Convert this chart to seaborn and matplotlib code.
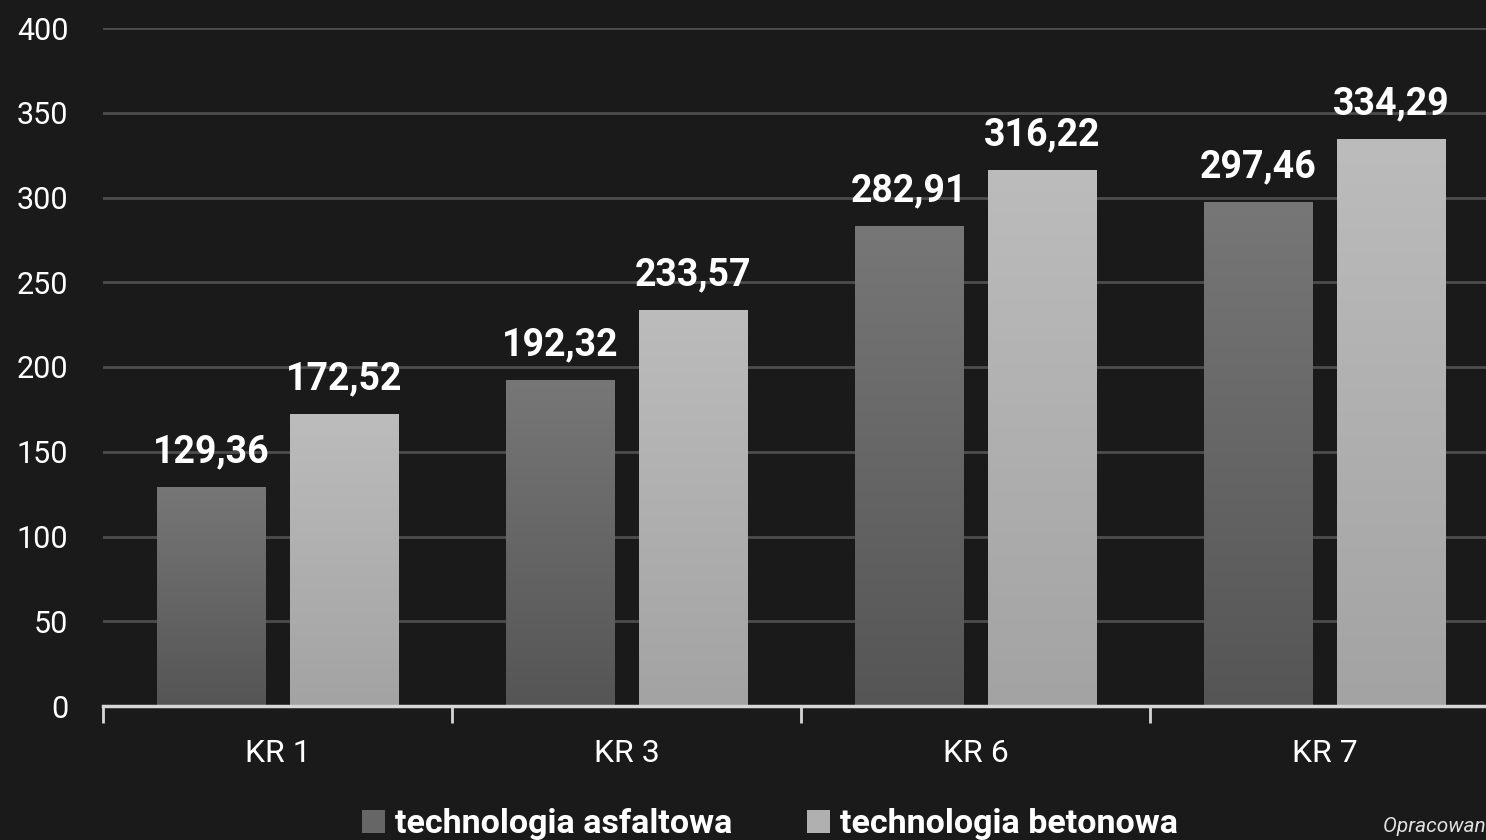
import numpy as np
import pandas as pd
import matplotlib
matplotlib.use("Agg")
import matplotlib.pyplot as plt
import seaborn as sns
from matplotlib.colors import LinearSegmentedColormap
from matplotlib.patches import Patch

categories = ["KR 1", "KR 3", "KR 6", "KR 7"]
series_names = ["technologia asfaltowa", "technologia betonowa"]
asfalt = [129.36, 192.32, 282.91, 297.46]
beton = [172.52, 233.57, 316.22, 334.29]
y_ticks = [0, 50, 100, 150, 200, 250, 300, 350, 400]
source_text = "Opracowanie własne"

df = pd.DataFrame({
    "kat": categories * 2,
    "wartosc": asfalt + beton,
    "tech": [series_names[0]] * 4 + [series_names[1]] * 4,
})

BG = "#1a1a1a"
sns.set_theme(style="dark")
plt.rcParams["font.family"] = ["Roboto", "DejaVu Sans"]

fig = plt.figure(figsize=(14.86, 8.4), dpi=100, facecolor=BG)
ax = fig.add_axes([103 / 1486, (840 - 706) / 840, 1 - 103 / 1486, (706 - 28) / 840])
ax.set_facecolor(BG)

pal = {series_names[0]: "#666666", series_names[1]: "#b0b0b0"}
sns.barplot(data=df, x="kat", y="wartosc", hue="tech", order=categories,
            hue_order=series_names, palette=pal, width=0.76, gap=0.18,
            saturation=1, ax=ax, legend=False, edgecolor="none", linewidth=0)

grads = {
    series_names[0]: ("#555555", "#777777"),
    series_names[1]: ("#a3a3a3", "#bcbcbc"),
}

# gradient overlay for each bar
for cont, name in zip(ax.containers, series_names):
    cmap = LinearSegmentedColormap.from_list(name, list(grads[name]))
    for p in cont.patches:
        x, y0 = p.get_x(), p.get_y()
        w, h = p.get_width(), p.get_height()
        grad = np.linspace(0, 1, 256).reshape(-1, 1)
        im = ax.imshow(grad, extent=[x, x + w, y0, y0 + h], origin="lower",
                       aspect="auto", cmap=cmap, zorder=p.get_zorder() + 0.1,
                       interpolation="bicubic")
        im.set_clip_path(p)
    labels = [f"{v:.2f}".replace(".", ",") for v in cont.datavalues]
    ax.bar_label(cont, labels=labels, padding=12, fontsize=27,
                 fontweight="bold", color="white")

ax.set_xticks([-0.5, 0.5, 1.5, 2.5], minor=True)
ax.set_yticks(y_ticks)
ax.set_yticklabels([str(t) for t in y_ticks])
ax.set_ylim(0, 400)
ax.yaxis.grid(True, color="#4d4d4d", linewidth=2)
ax.xaxis.grid(False)
ax.set_axisbelow(True)

for s in ["left", "top", "right"]:
    ax.spines[s].set_visible(False)
ax.spines["bottom"].set_color("#d6d6d6")
ax.spines["bottom"].set_linewidth(2.5)

ax.tick_params(axis="x", which="minor", length=12, width=2, color="#d6d6d6",
               direction="out", bottom=True)
ax.tick_params(axis="x", which="major", length=0, pad=24, labelsize=23,
               labelcolor="white")
ax.tick_params(axis="y", length=0, pad=25, labelsize=22, labelcolor="white")
for lbl in ax.get_yticklabels():
    lbl.set_va("center_baseline")
ax.set_xlabel("")
ax.set_ylabel("")
ax.set_xlim(-0.5, (1486 - 278) / 349)

handles = [Patch(facecolor="#666666", edgecolor="none"),
           Patch(facecolor="#b0b0b0", edgecolor="none")]
leg = fig.legend(handles, series_names, loc="center",
                 bbox_to_anchor=(770 / 1486, (840 - 824) / 840), ncol=2,
                 frameon=False, handlelength=0.66, handleheight=0.66,
                 handletextpad=0.3, columnspacing=2.2,
                 prop={"size": 24.5, "weight": "bold"})
for t in leg.get_texts():
    t.set_color("white")

fig.text(1383 / 1486, (840 - 827) / 840, source_text, fontsize=15,
         fontstyle="italic", color="#e0e0e0", ha="left", va="center")

fig.savefig("out.png", dpi=100, facecolor=BG)
